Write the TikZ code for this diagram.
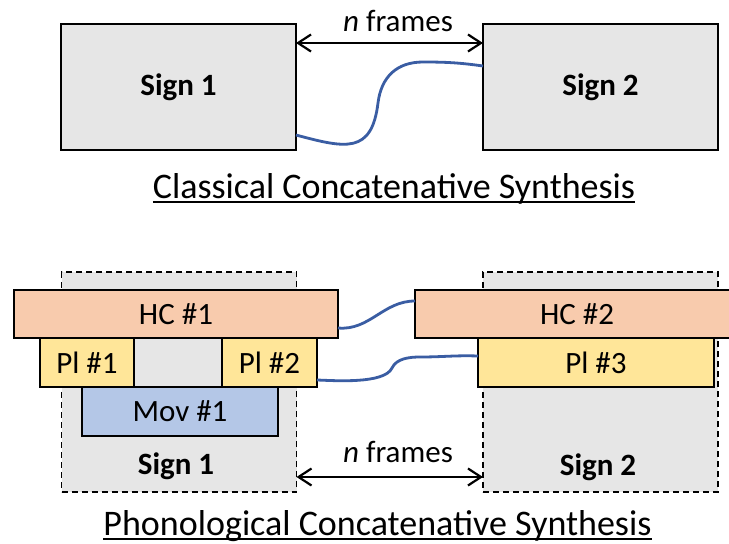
\documentclass[tikz,border=0pt]{standalone}
\usepackage{fontspec}
\setmainfont{Carlito}
\usetikzlibrary{arrows.meta}
\definecolor{signgray}{HTML}{E6E6E6}
\definecolor{hcfill}{HTML}{F8CBAD}
\definecolor{plfill}{HTML}{FFE699}
\definecolor{movfill}{HTML}{B4C7E7}
\definecolor{wireblue}{HTML}{3A5DA3}
\begin{document}
\begin{tikzpicture}[x=1pt,y=-1pt,
  txt/.style={font=\fontsize{31}{37}\selectfont, inner sep=0pt, outer sep=0pt},
  title/.style={font=\fontsize{36}{43}\selectfont, inner sep=0pt, outer sep=0pt},
  solidbox/.style={txt, draw=black, line width=1.8pt, minimum width=235pt, minimum height=126pt, fill=signgray},
  dashbox/.style={draw=black, line width=1.5pt, dash pattern=on 6pt off 4pt, fill=signgray, inner sep=0pt, outer sep=0pt, minimum width=235pt, minimum height=220pt},
  partbox/.style={txt, draw=black, line width=1.8pt, minimum height=48pt},
  hcbox/.style={partbox, fill=hcfill, minimum width=324pt},
  plbox/.style={partbox, fill=plfill},
  movbox/.style={partbox, fill=movfill},
  wire/.style={draw=wireblue, line width=2.8pt},
  gaparrow/.style={line width=2.2pt, {Straight Barb[length=13pt,width=17pt]}-{Straight Barb[length=13pt,width=17pt]}},
  uline/.style={line width=1.5pt}
]
\clip (0,0) rectangle (729,544);
\fill[white] (0,0) rectangle (729,544);

% ---------- Classical ----------
\node[solidbox] (s1top) at (178.5,87) {\bfseries Sign 1};
\node[solidbox] (s2top) at (600.5,87) {\bfseries Sign 2};
\draw[gaparrow] ([yshift=-19pt]s1top.north east) -- ([yshift=-19pt]s2top.north west);
\node[txt, anchor=base] (nf1) at (398,31) {\textit{n} frames};
\draw[wire] ([yshift=15pt]s1top.south east)
  to[out=-15,in=-97,looseness=1.5] ++(82,-32)
  to[out=83,in=180,looseness=1.1] ++(45,-41)
  to[out=0,in=172] ([yshift=-42pt]s2top.north west);
\node[title, anchor=base] (t1) at (394,198) {Classical Concatenative Synthesis};
\draw[uline] ([yshift=-4pt]t1.base west) -- ([yshift=-4pt]t1.base east);

% ---------- Phonological ----------
\node[dashbox] (d1) at (179,382) {};
\node[dashbox] (d2) at (600.5,382) {};
\node[hcbox] (hc1) at (176,314) {HC \#1};
\node[plbox, minimum width=94pt, minimum height=49pt] (pl1) at (87,362.5) {Pl \#1};
\node[plbox, minimum width=95pt, minimum height=49pt] (pl2) at (269.5,362.5) {Pl \#2};
\node[movbox, minimum width=196pt, minimum height=49pt] (mov1) at (180,411.5) {Mov \#1};
\node[hcbox] (hc2) at (577,314) {HC \#2};
\node[plbox, minimum width=236pt, minimum height=49pt] (pl3) at (596,362.5) {Pl \#3};
\node[txt] (s1lab) at (176,466.5) {\bfseries Sign 1};
\node[txt] (s2lab) at (598,467.5) {\bfseries Sign 2};
\draw[gaparrow] ([yshift=15pt]d1.south east) -- ([yshift=15pt]d2.south west);
\node[txt, anchor=base] (nf2) at (398,462) {\textit{n} frames};
\draw[wire] ([yshift=10pt]hc1.south east)
  to[out=-5,in=180] ([yshift=-11pt]hc2.north west);
\draw[wire] ([yshift=7pt]pl2.south east)
  to[out=-2,in=-115,looseness=0.6] ++(75,-12)
  to[out=65,in=180,looseness=0.9] ++(28,-11)
  to[out=0,in=178] ([yshift=-18pt]pl3.north west);
\node[title, anchor=base] (t2) at (377.5,535) {Phonological Concatenative Synthesis};
\draw[uline] ([yshift=-4pt]t2.base west) -- ([yshift=-4pt]t2.base east);
\end{tikzpicture}
\end{document}
